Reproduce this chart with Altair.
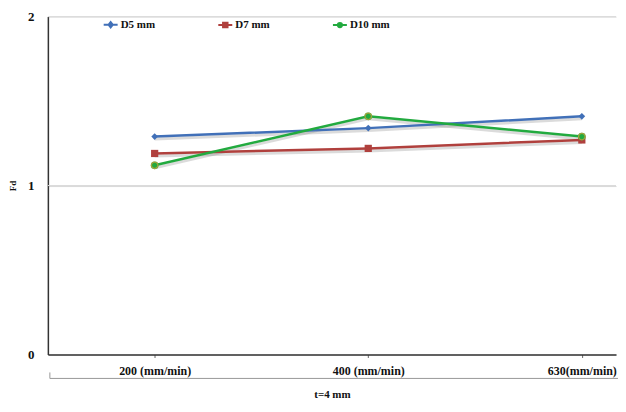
import altair as alt
import pandas as pd

categories = ["200 (mm/min)", "400 (mm/min)", "630(mm/min)"]
cat_pos = [1, 2, 3]
series = ["D5 mm", "D7 mm", "D10 mm"]
d5 = [1.29, 1.34, 1.41]
d7 = [1.19, 1.22, 1.27]
d10 = [1.12, 1.41, 1.29]
y_ticks = [0, 1, 2]
colors = ["#4170B8", "#B0403D", "#22AA3F"]
shapes = ["diamond", "square", "circle"]
marker_sizes = [45, 60, 42]
legend_shapes = [
    "M-1,0H1M0,-0.38L0.3,0L0,0.38L-0.3,0Z",
    "M-1,0H1M-0.32,-0.32H0.32V0.32H-0.32Z",
    "M-1,0H1M0.3,0A0.3,0.3,0,1,1,-0.3,0A0.3,0.3,0,1,1,0.3,0Z",
]

rows = []
for name, vals in zip(series, [d5, d7, d10]):
    for p, c, v in zip(cat_pos, categories, vals):
        rows.append({"series": name, "pos": p, "cat": c, "Fd": v})
df = pd.DataFrame(rows)

label_expr = " : ".join(
    f"datum.value == {p} ? '{c}'" for p, c in zip(cat_pos, categories)
) + " : ''"

FONT = "Liberation Serif"

x_scale = alt.Scale(domain=[0.5, 3.16], nice=False, zero=False)
y_scale = alt.Scale(domain=[0, 2], nice=False)

x_enc = alt.X(
    "pos:Q",
    scale=x_scale,
    axis=alt.Axis(
        values=cat_pos,
        labelExpr=label_expr,
        title="t=4 mm",
        grid=False,
        domainColor="#333333",
        domainWidth=1.5,
        tickColor="#666666",
        tickSize=3,
        labelPadding=8,
        labelFont=FONT,
        labelFontWeight="bold",
        labelFontSize=12,
        labelColor="#111111",
        titleFont=FONT,
        titleFontWeight="bold",
        titleFontSize=11,
        titleColor="#111111",
        titlePadding=12,
    ),
)
y_enc = alt.Y(
    "Fd:Q",
    scale=y_scale,
    axis=alt.Axis(
        tickCount=2,
        format="d",
        title="Fd",
        grid=True,
        gridColor="#D9D9D9",
        domainColor="#333333",
        domainWidth=1.5,
        ticks=False,
        labelPadding=14,
        labelAlign="right",
        labelBaseline="middle",
        labelFlush=False,
        labelFont=FONT,
        labelFontWeight="bold",
        labelFontSize=13,
        labelColor="#111111",
        labelOverlap=False,
        titleFont=FONT,
        titleFontWeight="bold",
        titleFontSize=9,
        titleColor="#111111",
        titlePadding=10,
    ),
)

legend = alt.Legend(
    title=None,
    orient="none",
    legendX=55,
    legendY=0,
    direction="horizontal",
    columns=3,
    columnPadding=59,
    labelFont=FONT,
    labelFontWeight="bold",
    labelFontSize=11,
    labelColor="#111111",
    symbolSize=196,
    symbolStrokeWidth=2,
    labelOffset=2,
)
color_scale = alt.Scale(domain=series, range=colors)

base = alt.Chart(df)

shadow = base.mark_line(color="#888888", opacity=0.3, strokeWidth=3, yOffset=2.5).encode(
    x=x_enc, y=y_enc, detail="series:N"
)
lines = base.mark_line(strokeWidth=2.5).encode(
    x=x_enc, y=y_enc, color=alt.Color("series:N", scale=color_scale, legend=None)
)
points = base.mark_point(filled=True, opacity=1).encode(
    x=x_enc,
    y=y_enc,
    color=alt.Color("series:N", scale=color_scale, legend=None),
    shape=alt.Shape("series:N", scale=alt.Scale(domain=series, range=shapes), legend=None),
    size=alt.Size("series:N", scale=alt.Scale(domain=series, range=marker_sizes), legend=None),
)
points_outline = base.transform_filter(alt.datum.series == "D10 mm").mark_point(
    filled=False, size=42, color="#D9A03A", strokeWidth=1.3, shape="circle"
).encode(x=x_enc, y=y_enc)

legend_layer = base.transform_filter("false").mark_point(filled=True, opacity=1).encode(
    x=x_enc,
    y=y_enc,
    color=alt.Color("series:N", scale=color_scale, legend=legend),
    stroke=alt.Stroke("series:N", scale=color_scale, legend=legend),
    shape=alt.Shape("series:N", scale=alt.Scale(domain=series, range=legend_shapes), legend=legend),
)

grid1 = alt.Chart(pd.DataFrame({"g": y_ticks[1:]})).mark_rule(color="#D9D9D9", strokeWidth=1).encode(
    y=alt.Y("g:Q", scale=y_scale)
)

bracket = alt.Chart(pd.DataFrame({"a": [0]})).mark_rule(color="#999999", strokeWidth=1).encode(
    x=alt.value(2), x2=alt.value(572), y=alt.value(363)
)
bracket_tick = alt.Chart(pd.DataFrame({"a": [0]})).mark_rule(color="#999999", strokeWidth=1).encode(
    x=alt.value(2), y=alt.value(357), y2=alt.value(363)
)

chart = (
    alt.layer(grid1, shadow, lines, points, points_outline, legend_layer, bracket, bracket_tick)
    .resolve_scale(color="independent", shape="independent", stroke="independent", size="independent")
    .properties(
        width=570,
        height=339,
        autosize=alt.AutoSizeParams(type="none"),
        padding={"left": 40, "top": 8, "right": 2, "bottom": 48},
    )
    .configure_view(stroke=None)
)

chart.save("out.html", embed_options={"renderer": "svg", "actions": False})
